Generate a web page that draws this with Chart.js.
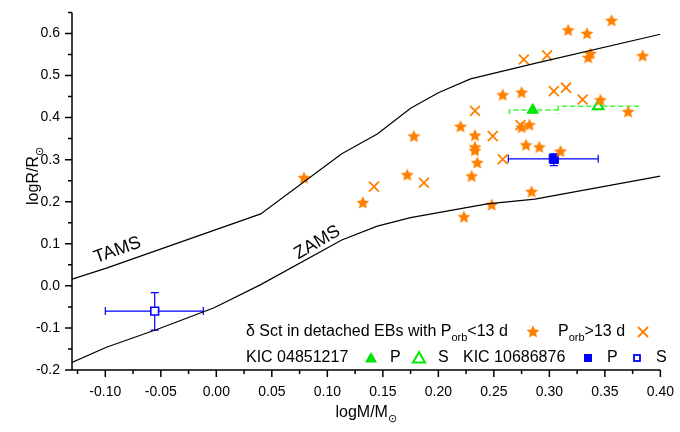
<!DOCTYPE html>
<html lang="en">
<head>
<meta charset="UTF-8">
<title>delta Sct stars in detached EBs - logR vs logM</title>
<script src="https://cdn.jsdelivr.net/npm/chart.js"></script>
<style>
  body { margin: 0; background: #fff; }
</style>
</head>
<body>
<canvas id="hr" width="680" height="432"></canvas>
<script>
// tick labels
const xTicks = [-0.10, -0.05, 0.00, 0.05, 0.10, 0.15, 0.20, 0.25, 0.30, 0.35, 0.40];
const yTicks = [-0.2, -0.1, 0.0, 0.1, 0.2, 0.3, 0.4, 0.5, 0.6];

// evolutionary tracks
const tamsX = [-0.13, -0.099, 0.040, 0.113, 0.145, 0.175, 0.200, 0.229, 0.287, 0.40];
const tamsY = [0.016, 0.042, 0.171, 0.314, 0.361, 0.422, 0.459, 0.492, 0.529, 0.598];
const zamsX = [-0.13, -0.099, -0.053, -0.002, 0.040, 0.113, 0.145, 0.175, 0.244, 0.287, 0.40];
const zamsY = [-0.182, -0.146, -0.103, -0.052, 0.003, 0.109, 0.142, 0.162, 0.195, 0.206, 0.261];

// delta Sct in detached EBs, Porb < 13 d
const shortX = [0.079, 0.132, 0.172, 0.178, 0.220, 0.233, 0.233, 0.233, 0.235, 0.230, 0.223, 0.248, 0.284, 0.258,
                0.275, 0.275, 0.282, 0.279, 0.291, 0.310, 0.317, 0.334, 0.356, 0.337, 0.335, 0.384, 0.346, 0.371];
const shortY = [0.256, 0.197, 0.263, 0.355, 0.378, 0.357, 0.329, 0.321, 0.292, 0.260, 0.163, 0.192, 0.223, 0.453,
                0.459, 0.376, 0.382, 0.334, 0.329, 0.319, 0.607, 0.599, 0.630, 0.551, 0.542, 0.546, 0.441, 0.413];
// Porb > 13 d
const longX = [0.142, 0.187, 0.233, 0.249, 0.258, 0.277, 0.298, 0.304, 0.315, 0.330, 0.274];
const longY = [0.236, 0.245, 0.416, 0.356, 0.301, 0.538, 0.548, 0.463, 0.471, 0.443, 0.382];

// KIC 04851217 (index 0 = P, 1 = S)
const kic04X = [0.285, 0.344];
const kic04Y = [0.418, 0.427];
const kic04XLo = [0.264, 0.308];
const kic04XHi = [0.308, 0.380];
// KIC 10686876 (index 0 = P, 1 = S)
const kic10X = [0.304, -0.0555];
const kic10Y = [0.302, -0.060];
const kic10XLo = [0.263, -0.100];
const kic10XHi = [0.344, -0.0117];
const kic10YLo = [0.286, -0.105];
const kic10YHi = [0.314, -0.016];

const FONT = '"Liberation Sans", Arial, sans-serif';
const ORANGE = '#ff8000';
const GREEN = '#00e600';
const GREEN_BAR = '#33ff33';
const BLUE = '#0000ff';

const pts = (xs, ys) => xs.map((v, i) => ({ x: v, y: ys[i] }));

function drawStar(g, cx, cy, r, color) {
    g.beginPath();
    for (let i = 0; i < 10; i++) {
        const rr = i % 2 ? r * 0.47 : r;
        const a = -Math.PI / 2 + i * Math.PI / 5;
        g.lineTo(cx + rr * Math.cos(a), cy + rr * Math.sin(a));
    }
    g.closePath();
    g.fillStyle = color;
    g.fill();
}

function starImage(r) {
    const s = Math.ceil(r * 2 + 2);
    const c = document.createElement('canvas');
    c.width = s; c.height = s;
    drawStar(c.getContext('2d'), s / 2, s / 2, r, ORANGE);
    return c;
}
const starImg = starImage(6.8);

// error bars, drawn under the markers
const errorBars = {
    id: 'errorBars',
    beforeDatasetsDraw(chart) {
        const { ctx, scales: { x, y } } = chart;
        ctx.save();
        // KIC 04851217: dashed, only x errors, caps hanging down
        ctx.strokeStyle = GREEN_BAR;
        ctx.lineWidth = 1.5;
        ctx.setLineDash([5, 3]);
        kic04X.forEach((_, i) => {
            const py = y.getPixelForValue(kic04Y[i]);
            const xl = x.getPixelForValue(kic04XLo[i]);
            const xh = x.getPixelForValue(kic04XHi[i]);
            ctx.beginPath();
            ctx.moveTo(xl, py + 4);
            ctx.lineTo(xl, py);
            ctx.lineTo(xh, py);
            ctx.lineTo(xh, py + 4);
            ctx.stroke();
        });
        // KIC 10686876: solid, x and y errors with caps
        ctx.setLineDash([]);
        ctx.strokeStyle = BLUE;
        ctx.lineWidth = 1.2;
        kic10X.forEach((v, i) => {
            const px = x.getPixelForValue(v);
            const py = y.getPixelForValue(kic10Y[i]);
            const xl = x.getPixelForValue(kic10XLo[i]);
            const xh = x.getPixelForValue(kic10XHi[i]);
            const yl = y.getPixelForValue(kic10YLo[i]);
            const yh = y.getPixelForValue(kic10YHi[i]);
            ctx.beginPath();
            ctx.moveTo(xl, py); ctx.lineTo(xh, py);
            ctx.moveTo(xl, py - 4); ctx.lineTo(xl, py + 4);
            ctx.moveTo(xh, py - 4); ctx.lineTo(xh, py + 4);
            ctx.moveTo(px, yl); ctx.lineTo(px, yh);
            ctx.moveTo(px - 4, yl); ctx.lineTo(px + 4, yl);
            ctx.moveTo(px - 4, yh); ctx.lineTo(px + 4, yh);
            ctx.stroke();
        });
        ctx.restore();
    }
};

// text with subscripts: runs = [[text, isSub], ...]
function runsWidth(ctx, runs, size, subSize) {
    let w = 0;
    runs.forEach(([t, sub]) => {
        ctx.font = (sub ? subSize : size) + 'px ' + FONT;
        w += ctx.measureText(t).width;
    });
    return w;
}
function drawRuns(ctx, x, y, runs, size, subSize) {
    ctx.fillStyle = '#000';
    runs.forEach(([t, sub]) => {
        ctx.font = (sub ? subSize : size) + 'px ' + FONT;
        ctx.fillText(t, x, sub ? y + size * 0.38 : y);
        x += ctx.measureText(t).width;
    });
    return x;
}

// axes, ticks, titles, labels and legend
const decorations = {
    id: 'decorations',
    afterDraw(chart) {
        const { ctx, chartArea: a, scales: { x, y } } = chart;
        ctx.save();
        ctx.strokeStyle = '#000';
        ctx.fillStyle = '#000';
        ctx.lineWidth = 1.5;
        ctx.beginPath();
        ctx.moveTo(a.left, a.top); ctx.lineTo(a.left, a.bottom); ctx.lineTo(a.right, a.bottom);
        // y ticks (major + minor halfway)
        yTicks.forEach(v => {
            const py = y.getPixelForValue(v);
            ctx.moveTo(a.left, py); ctx.lineTo(a.left - 7, py);
            const pm = y.getPixelForValue(v + 0.05);
            ctx.moveTo(a.left, pm); ctx.lineTo(a.left - 4, pm);
        });
        // x ticks
        xTicks.forEach(v => {
            const px = x.getPixelForValue(v);
            ctx.moveTo(px, a.bottom); ctx.lineTo(px, a.bottom + 7);
            const pm = x.getPixelForValue(v - 0.025);
            ctx.moveTo(pm, a.bottom); ctx.lineTo(pm, a.bottom + 4);
        });
        ctx.stroke();

        ctx.textBaseline = 'middle';
        // x title
        const xt = [['logM/M', false], ['\u2299', true]];
        const xw = runsWidth(ctx, xt, 16, 11);
        drawRuns(ctx, (a.left + a.right) / 2 - xw / 2, 413, xt, 16, 11);
        // y title
        const yt = [['logR/R', false], ['\u2299', true]];
        const yw = runsWidth(ctx, yt, 16, 11);
        ctx.save();
        ctx.translate(34, 176);
        ctx.rotate(-Math.PI / 2);
        drawRuns(ctx, -yw / 2, 0, yt, 16, 11);
        ctx.restore();

        // track names
        ctx.font = '18px ' + FONT;
        ctx.fillStyle = '#000';
        ctx.textAlign = 'center';
        [['TAMS', -0.089, 0.085, -19.6], ['ZAMS', 0.091, 0.103, -30.6]].forEach(([t, vx, vy, deg]) => {
            ctx.save();
            ctx.translate(x.getPixelForValue(vx), y.getPixelForValue(vy));
            ctx.rotate(deg * Math.PI / 180);
            ctx.fillText(t, 0, 0);
            ctx.restore();
        });
        ctx.textAlign = 'left';

        // legend
        const l1 = 332, l2 = 358;
        drawRuns(ctx, 246, l1, [['\u03b4 Sct in detached EBs with P', false], ['orb', true], ['<13 d', false]], 16, 11);
        drawStar(ctx, 533, l1, 6.8, ORANGE);
        drawRuns(ctx, 558, l1, [['P', false], ['orb', true], ['>13 d', false]], 16, 11);
        ctx.strokeStyle = ORANGE;
        ctx.lineWidth = 1.8;
        ctx.beginPath();
        ctx.moveTo(638, l1 - 5); ctx.lineTo(648, l1 + 5);
        ctx.moveTo(648, l1 - 5); ctx.lineTo(638, l1 + 5);
        ctx.stroke();

        drawRuns(ctx, 246, l2, [['KIC 04851217', false]], 16, 11);
        drawRuns(ctx, 390, l2, [['P', false]], 16, 11);
        drawRuns(ctx, 438, l2, [['S', false]], 16, 11);
        drawRuns(ctx, 463, l2, [['KIC 10686876', false]], 16, 11);
        drawRuns(ctx, 607, l2, [['P', false]], 16, 11);
        drawRuns(ctx, 656, l2, [['S', false]], 16, 11);
        // triangles
        const tri = (cx, filled) => {
            ctx.beginPath();
            ctx.moveTo(cx, l2 - 6); ctx.lineTo(cx + 6, l2 + 4.5); ctx.lineTo(cx - 6, l2 + 4.5); ctx.closePath();
            if (filled) { ctx.fillStyle = GREEN; ctx.fill(); }
            else { ctx.strokeStyle = GREEN; ctx.lineWidth = 2; ctx.stroke(); }
        };
        tri(371, true);
        tri(419, false);
        ctx.fillStyle = BLUE;
        ctx.fillRect(584, l2 - 4, 8, 8);
        ctx.strokeStyle = BLUE;
        ctx.lineWidth = 1.8;
        ctx.strokeRect(634, l2 - 3, 6, 6);
        ctx.restore();
    }
};

new Chart(document.getElementById('hr'), {
    type: 'scatter',
    data: {
        datasets: [
            { label: 'TAMS', data: pts(tamsX, tamsY), showLine: true, borderColor: '#000', borderWidth: 1.2, pointRadius: 0 },
            { label: 'ZAMS', data: pts(zamsX, zamsY), showLine: true, borderColor: '#000', borderWidth: 1.2, pointRadius: 0 },
            { label: 'Porb<13 d', data: pts(shortX, shortY), pointStyle: starImg, pointRadius: 7 },
            { label: 'Porb>13 d', data: pts(longX, longY), pointStyle: 'crossRot', pointRadius: 7,
              borderColor: ORANGE, borderWidth: 1.8 },
            { label: 'KIC 04851217 P', data: [{ x: kic04X[0], y: kic04Y[0] }], pointStyle: 'triangle', pointRadius: 6.5,
              backgroundColor: GREEN, borderColor: GREEN, borderWidth: 1 },
            { label: 'KIC 04851217 S', data: [{ x: kic04X[1], y: kic04Y[1] }], pointStyle: 'triangle', pointRadius: 6,
              backgroundColor: '#fff', borderColor: GREEN, borderWidth: 2 },
            { label: 'KIC 10686876 P', data: [{ x: kic10X[0], y: kic10Y[0] }], pointStyle: 'rect', pointRadius: 6.5,
              backgroundColor: BLUE, borderColor: BLUE, borderWidth: 1 },
            { label: 'KIC 10686876 S', data: [{ x: kic10X[1], y: kic10Y[1] }], pointStyle: 'rect', pointRadius: 5.5,
              backgroundColor: '#fff', borderColor: BLUE, borderWidth: 1.6 }
        ]
    },
    options: {
        responsive: false,
        animation: false,
        devicePixelRatio: 1,
        layout: { padding: { top: 3, right: 15, left: 0, bottom: 0 } },
        plugins: { legend: { display: false }, tooltip: { enabled: false } },
        scales: {
            x: {
                type: 'linear', min: -0.13, max: 0.40,
                grid: { display: false }, border: { display: false },
                afterBuildTicks: s => { s.ticks = xTicks.map(v => ({ value: v })); },
                afterFit: s => { s.height = 62; },
                ticks: { autoSkip: false, maxRotation: 0, padding: 6, color: '#000',
                         font: { family: FONT, size: 14 }, callback: v => v.toFixed(2) }
            },
            y: {
                type: 'linear', min: -0.2, max: 0.65,
                grid: { display: false }, border: { display: false },
                afterBuildTicks: s => { s.ticks = yTicks.map(v => ({ value: v })); },
                afterFit: s => { s.width = 72; },
                ticks: { autoSkip: false, padding: 4, color: '#000',
                         font: { family: FONT, size: 14 }, callback: v => v.toFixed(1) }
            }
        }
    },
    plugins: [errorBars, decorations]
});
</script>
</body>
</html>
